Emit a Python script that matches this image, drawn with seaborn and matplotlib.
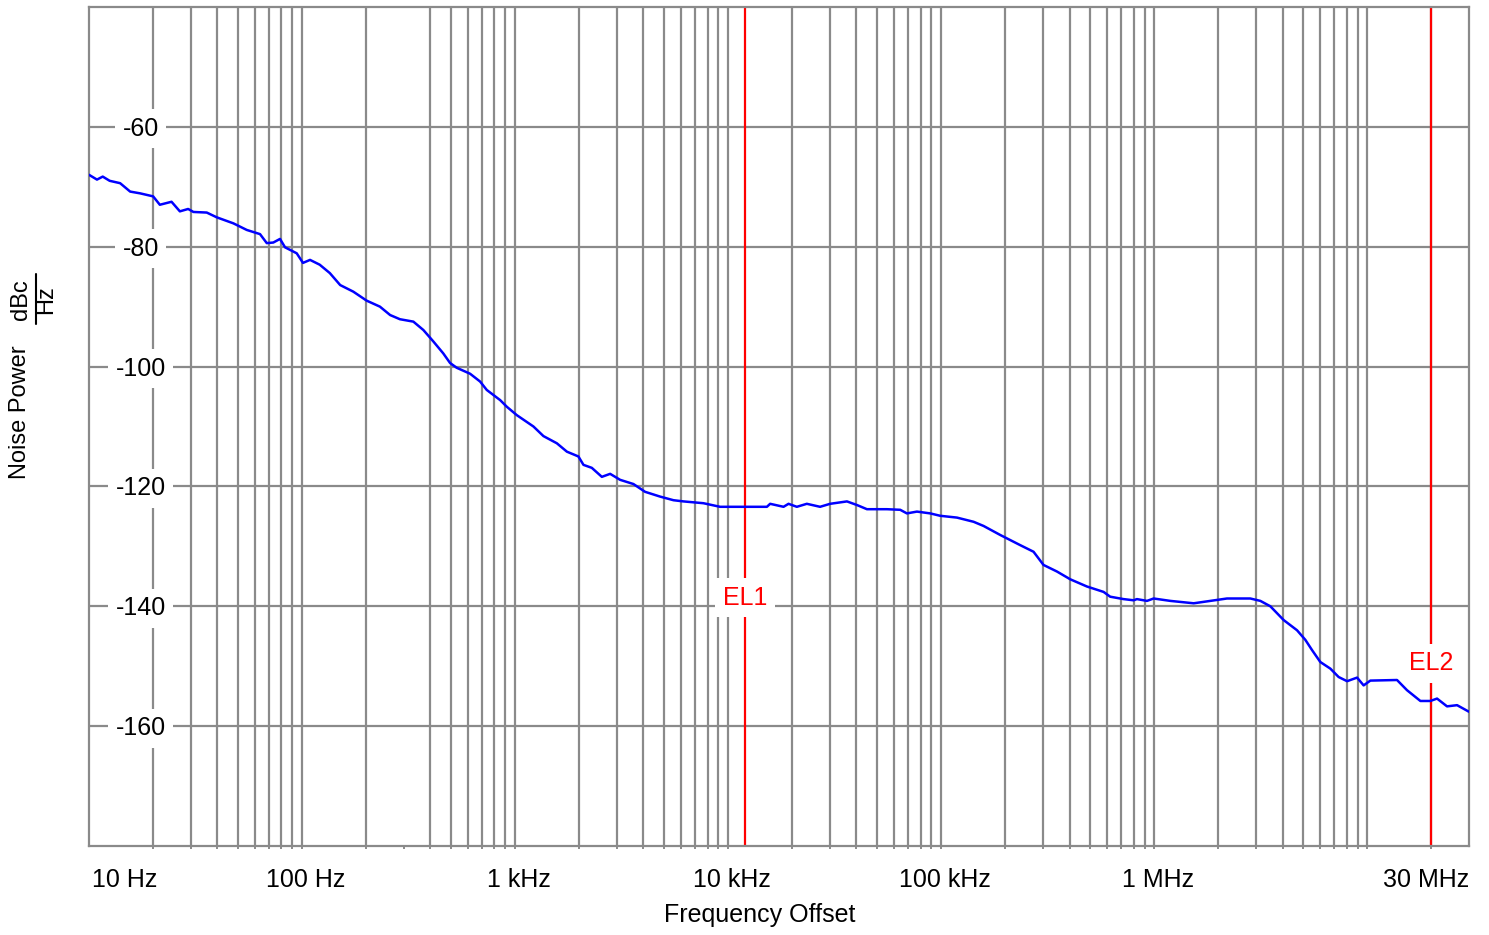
import matplotlib
matplotlib.use("Agg")
from matplotlib import pyplot as plt
from matplotlib import transforms
from matplotlib.lines import Line2D
import seaborn as sns
import numpy as np

# phase noise trace (Hz, dBc/Hz)
freq_hz = [10, 10.9, 11.6, 12.5, 14.0, 15.6, 17.4, 20.0, 21.5, 24.4, 26.7, 29.2, 30.9,
           35.7, 39.8, 47.6, 55.0, 63.5, 68.3, 73.3, 78.8, 83.2, 94.4, 101, 109, 121,
           135, 151, 174, 201, 232, 259, 288, 333, 371, 413, 460, 495, 532, 615, 685,
           736, 851, 914, 1018, 1219, 1358, 1570, 1750, 1982, 2093, 2291, 2553, 2793,
           3111, 3592, 4074, 4796, 5537, 6168, 7654, 9163, 12680, 15200, 15740, 18190,
           19200, 21000, 23400, 27000, 30100, 36100, 40200, 44800, 55600, 64200, 69000,
           76900, 88800, 98900, 118500, 141900, 158100, 189200, 234900, 271200, 302000,
           349300, 403500, 483000, 578000, 621000, 717000, 800000, 829000, 924000,
           993000, 1189000, 1531000, 1833000, 2194000, 2824000, 3147000, 3505000,
           4048000, 4677000, 5117000, 5499000, 6016000, 6703000, 7332000, 8035000,
           8950000, 9607000, 10330000, 13780000, 15350000, 17740000, 19760000,
           21240000, 23660000, 26370000, 30000000]
noise_dbc = [-68.0, -68.8, -68.3, -69.0, -69.4, -70.8, -71.1, -71.6, -73.0, -72.5, -74.1,
             -73.7, -74.2, -74.3, -75.1, -76.1, -77.2, -77.9, -79.4, -79.3, -78.7, -80.1,
             -81.1, -82.7, -82.2, -83.0, -84.4, -86.4, -87.5, -89.0, -90.0, -91.4, -92.1,
             -92.5, -93.9, -95.8, -97.8, -99.4, -100.2, -101.2, -102.5, -103.9, -105.6,
             -106.7, -108.1, -110.0, -111.6, -112.8, -114.2, -115.0, -116.4, -116.9,
             -118.4, -117.9, -118.9, -119.6, -120.9, -121.7, -122.3, -122.5, -122.8,
             -123.4, -123.4, -123.4, -122.9, -123.4, -122.9, -123.4, -122.9, -123.4,
             -122.9, -122.5, -123.1, -123.8, -123.8, -123.9, -124.5, -124.2, -124.5,
             -124.9, -125.2, -125.9, -126.6, -128.1, -129.8, -130.9, -133.1, -134.2,
             -135.5, -136.7, -137.6, -138.4, -138.8, -139.0, -138.8, -139.1, -138.7,
             -139.1, -139.5, -139.1, -138.7, -138.7, -139.1, -140.0, -142.3, -144.0,
             -145.6, -147.3, -149.3, -150.4, -151.8, -152.5, -151.9, -153.2, -152.4,
             -152.3, -154.0, -155.8, -155.8, -155.4, -156.7, -156.5, -157.6]

# integration limits
marker_hz = [12e3, 20e6]
marker_names = ["EL1", "EL2"]
marker_label_db = [-138.6, -149.5]

decade_ticks = [10, 100, 1e3, 1e4, 1e5, 1e6, 3e7]
decade_labels = ["10 Hz", "100 Hz", "1 kHz", "10 kHz", "100 kHz", "1 MHz", "30 MHz"]
y_ticks = [-60, -80, -100, -120, -140, -160]

sns.set_theme(style="white")
plt.rcParams["font.family"] = ["Liberation Sans", "DejaVu Sans"]
plt.rcParams["text.color"] = "black"

W, H = 1489, 935
fig = plt.figure(figsize=(W / 100, H / 100), dpi=100)
ax = fig.add_axes([89 / W, 1 - 846 / H, 1380 / W, 839 / H])

grid_col = "#8a8a8a"
ax.set_xscale("log")
ax.set_xlim(10, 3e7)
ax.set_ylim(-180, -40)

# grid: decades and 2..9 multiples (the 300 Hz line is absent in the original)
all_ticks = []
for dec in [10, 100, 1e3, 1e4, 1e5, 1e6, 1e7]:
    for m in range(1, 10):
        f = dec * m
        if 10 < f < 3e7:
            all_ticks.append(f)
for f in all_ticks:
    if abs(f - 300) > 1:
        ax.axvline(f, color=grid_col, lw=1.6, zorder=1)
for y in y_ticks:
    ax.axhline(y, color=grid_col, lw=1.6, zorder=1)

for s in ax.spines.values():
    s.set_color(grid_col)
    s.set_linewidth(1.6)

ax.set_xticks(all_ticks)
ax.set_xticks([], minor=True)
ax.tick_params(axis="x", which="major", direction="out", length=2.5, width=1.4,
               color=grid_col, bottom=True, labelbottom=False)
ax.tick_params(axis="y", left=False, labelleft=False)
ax.set_yticks([])

for f in marker_hz:
    ax.axvline(f, color="#ff0000", lw=1.6, zorder=2)

sns.lineplot(x=freq_hz, y=noise_dbc, ax=ax, color="#0000ff", lw=1.8,
             estimator=None, sort=False, zorder=3)

# y tick labels sit inside the plot on white boxes
ytrans = transforms.blended_transform_factory(ax.transAxes, ax.transData)
ytrans = transforms.offset_copy(ytrans, fig=fig, x=0, y=-2, units="dots")
for y in y_ticks:
    ax.text(0.0375, y, str(y), transform=ytrans, ha="center", va="center",
            fontsize=18, color="black", zorder=5,
            bbox=dict(boxstyle="square,pad=0.3", fc="white", ec="none"))

# x decade labels
xtrans = transforms.blended_transform_factory(ax.transData, ax.transAxes)
for f, lab in zip(decade_ticks, decade_labels):
    if f == 10:
        ax.text(10.35, -0.0405, lab, transform=xtrans, ha="left", va="center", fontsize=18)
    elif f == 3e7:
        ax.text(3e7, -0.0405, lab, transform=xtrans, ha="right", va="center", fontsize=18)
    else:
        t = transforms.offset_copy(xtrans, fig=fig, x=4, y=0, units="dots")
        ax.text(f, -0.0405, lab, transform=t, ha="center", va="center", fontsize=18)

for f, name, y in zip(marker_hz, marker_names, marker_label_db):
    ax.text(f, y, name, ha="center", va="center", fontsize=18, color="#ff0000", zorder=5,
            bbox=dict(boxstyle="square,pad=0.3", fc="white", ec="none"))

ax.set_xlabel("")
ax.set_ylabel("")
fig.text(760 / W, 1 - 915 / H, "Frequency Offset", ha="center", va="center", fontsize=18)

# y axis title with stacked dBc/Hz unit
fig.text(20 / W, 1 - 412 / H, "Noise Power", rotation=90, ha="center", va="center", fontsize=17)
fig.text(21 / W, 1 - 300 / H, "dBc", rotation=90, ha="center", va="center", fontsize=17)
fig.text(46 / W, 1 - 300 / H, "Hz", rotation=90, ha="center", va="center", fontsize=17)
fig.add_artist(Line2D([36 / W, 36 / W], [1 - 324 / H, 1 - 274 / H], color="black", lw=1.5))

fig.savefig("out.png", dpi=100, facecolor="white")
